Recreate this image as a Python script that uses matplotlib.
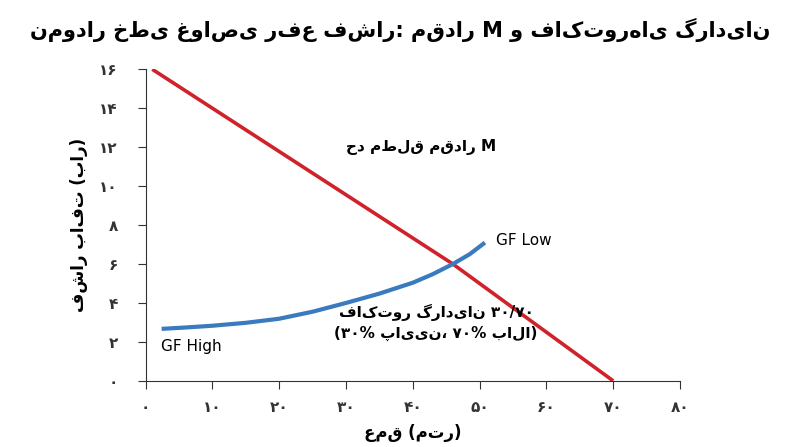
import matplotlib
matplotlib.use("Agg")
import matplotlib.pyplot as plt

plt.rcParams['font.family'] = ['DejaVu Sans', 'Noto Sans']

# ---- data ----
m_depth = [1, 46, 70]
m_press = [16, 6, 0]
gf_depth = [2.4, 6, 10, 15, 20, 25, 30, 35, 40, 43, 46, 48.5, 50.8]
gf_press = [2.67, 2.74, 2.83, 2.98, 3.19, 3.55, 4.0, 4.48, 5.04, 5.48, 6.0, 6.5, 7.1]
x_ticks = [0, 10, 20, 30, 40, 50, 60, 70, 80]
y_ticks = [0, 2, 4, 6, 8, 10, 12, 14, 16]

LRM = '\u200e'

def fa(text):
    # left-to-right word order, as in the reference
    return LRM + text.replace(' ', LRM + ' ' + LRM) + LRM

fig, ax = plt.subplots(figsize=(8, 4.47), dpi=100)
fig.subplots_adjust(left=0.182, right=0.85, top=0.845, bottom=0.148)

ax.plot(m_depth, m_press, color='#d0222b', lw=2.6, solid_capstyle='butt')
ax.plot(gf_depth, gf_press, color='#3a7bbf', lw=3, solid_capstyle='butt')

ax.set_xlim(0, 80)
ax.set_ylim(0, 16)
ax.set_xticks(x_ticks)
ax.set_yticks(y_ticks)
to_fa = str.maketrans('0123456789', '۰۱۲۳۴۵۶۷۸۹')
ax.set_xticklabels([str(v).translate(to_fa) for v in x_ticks], fontweight='bold', fontsize=11)
ax.set_yticklabels([str(v).translate(to_fa) for v in y_ticks], fontweight='bold', fontsize=11)
for s in ['top', 'right']:
    ax.spines[s].set_visible(False)
for s in ['left', 'bottom']:
    ax.spines[s].set_color('#333333')
ax.tick_params(colors='#333333', length=6)
ax.tick_params(axis='y', pad=14)
ax.tick_params(axis='x', pad=8)

ax.set_xlabel(fa('عمق (متر)'), fontweight='bold', fontsize=12, labelpad=6)
ax.set_ylabel(fa('فشار بافت (بار)'), fontweight='bold', fontsize=12, labelpad=8)
fig.suptitle(fa('نمودار خطی غواصی رفع فشار: مقدار M و فاکتورهای گرادیان'),
             fontweight='bold', fontsize=15, x=0.5, y=0.96)

ax.text(30, 12, fa('حد مطلق مقدار M'), fontweight='bold', fontsize=11, ha='left', va='center')
ax.text(52.5, 7.2, 'GF Low', fontsize=11, ha='left', va='center')
ax.text(2.3, 1.75, 'GF High', fontsize=11, ha='left', va='center')
ax.text(43.5, 3.5, fa('فاکتور گرادیان ۳۰/۷۰'), fontweight='bold', fontsize=11, ha='center', va='center')
ax.text(43.5, 2.45, fa('(۳۰% پایین، ۷۰% بالا)'), fontweight='bold', fontsize=11, ha='center', va='center')

fig.savefig('out.png', dpi=100)
